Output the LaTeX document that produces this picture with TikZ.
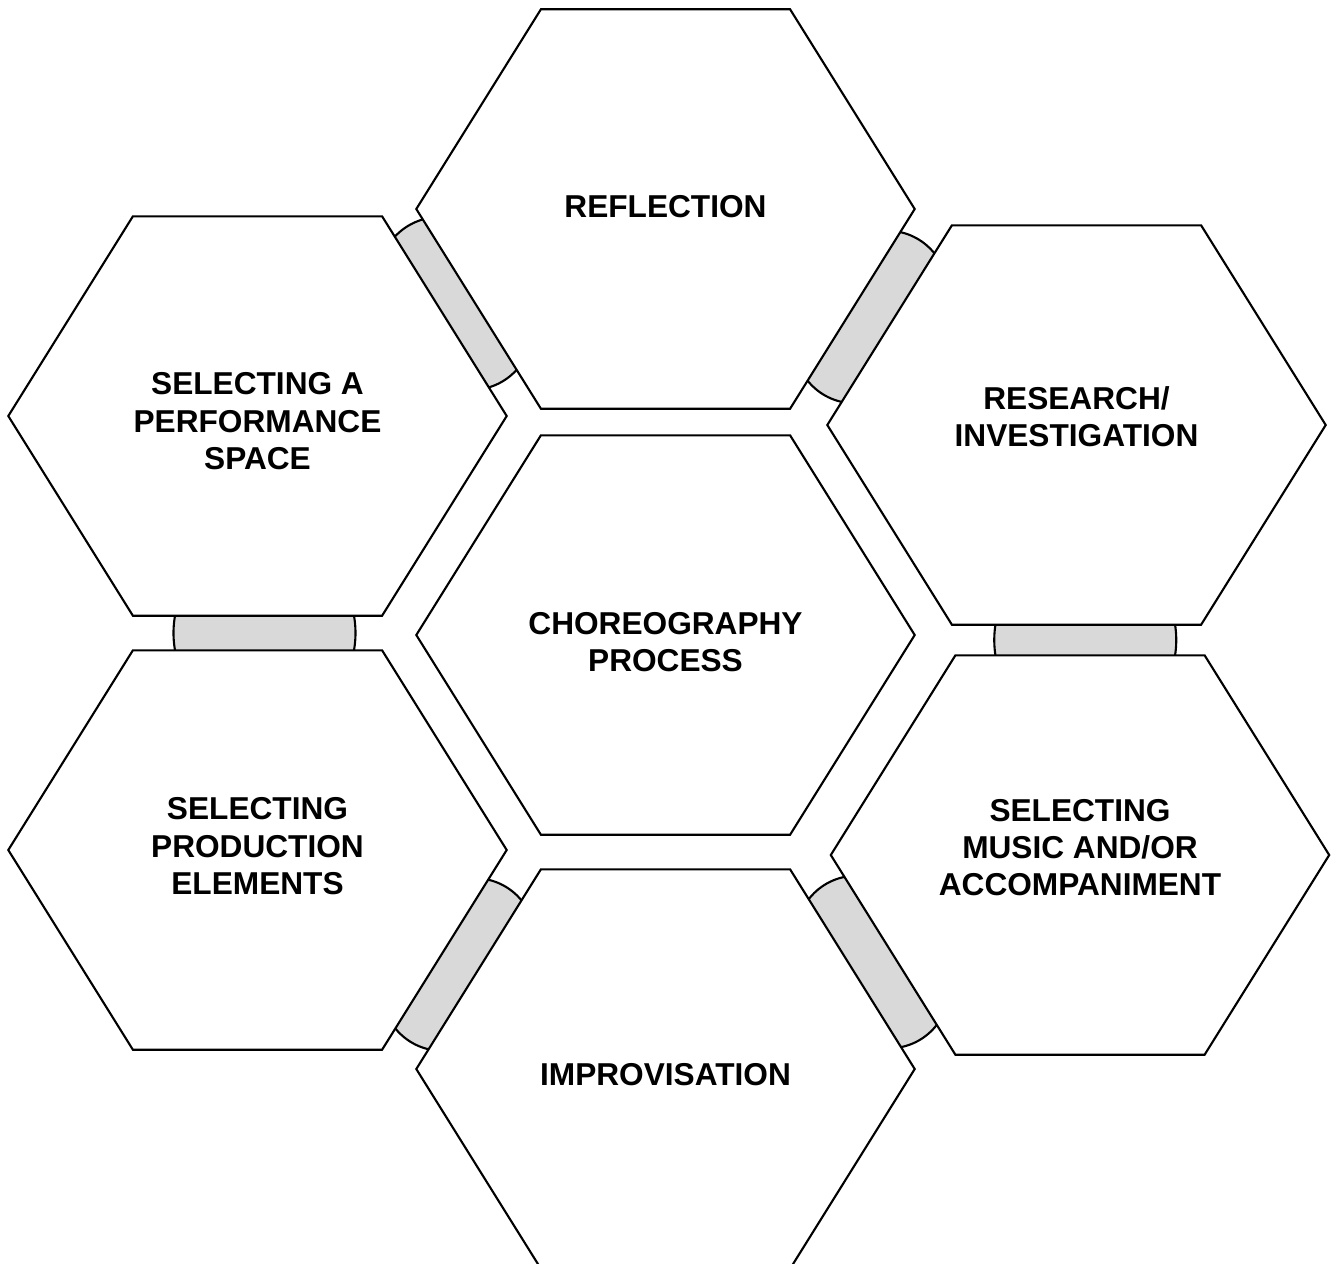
\documentclass[tikz,border=0pt]{standalone}
\usepackage{fontspec}
\setmainfont{Liberation Sans}
\usetikzlibrary{positioning, calc, backgrounds}
\definecolor{linkgray}{RGB}{217,217,217}
\newcommand\hexlink[5]{%
  \pgfmathsetmacro\capang{asin(.25/#4)}%
  \pgfmathsetmacro\capx{.91-#4+#4*cos(\capang)}%
  \path ($(#1)!.5!(#2)$) ++(#5) coordinate (#1-#2);
  \filldraw[link, shift={(#1-#2)}, rotate=#3]
    (\capx,-.25) arc[start angle=-\capang, end angle=\capang, radius=#4]
    -- (-\capx,.25) arc[start angle=180-\capang, end angle=180+\capang, radius=#4] -- cycle;
}
\newcommand\hexedge[1]{%
  \filldraw[hexline] (#1.west) -- ($(#1.north west)!.25!(#1.north east)$)
    -- ($(#1.north west)!.75!(#1.north east)$) -- (#1.east)
    -- ($(#1.south west)!.75!(#1.south east)$) -- ($(#1.south west)!.25!(#1.south east)$) -- cycle;
}

\begin{document}
\begin{tikzpicture}[node distance=4cm, on grid,
    hexcell/.style={minimum width=4.97cm, minimum height=3.98cm, inner sep=0pt,
      align=center, font=\bfseries\fontsize{9}{10.6}\selectfont},
    lift/.style={text depth=#1},
    sink/.style={text height=#1},
    hexline/.style={draw=black, fill=white, line width=.6pt, line join=miter},
    link/.style={draw=black, fill=linkgray, line width=.6pt}]
	\useasboundingbox (-6.655,-6.28) rectangle (6.715,6.35);
	\node[hexcell, sink=21pt]   (c) {CHOREOGRAPHY\\PROCESS};
	\node[hexcell, lift=.06cm]  (t)  [above=4.26 of c] {REFLECTION};
	\node[hexcell, lift=.17cm]  (ru) [above right=2.10 and 4.11 of c] {RESEARCH/\\INVESTIGATION};
	\node[hexcell, lift=.15cm]  (rl) [below right=2.20 and 4.145 of c] {SELECTING\\MUSIC AND/OR\\ACCOMPANIMENT};
	\node[hexcell, sink=9.3pt]  (b)  [below=4.34 of c] {IMPROVISATION};
	\node[hexcell, lift=.08cm]  (ll) [below left=2.15 and 4.08 of c] {SELECTING\\PRODUCTION\\ELEMENTS};
	\node[hexcell, sink=30.5pt] (lu) [above left=2.19 and 4.08 of c] {SELECTING A\\PERFORMANCE\\SPACE};
	\begin{pgfonlayer}{background}
		\hexlink{lu}{t}{-58}{.6}{-.06,.09}
		\hexlink{t}{ru}{58}{.6}{0,0}
		\hexlink{lu}{ll}{0}{1}{.07,0}
		\hexlink{ru}{rl}{0}{1}{.07,0}
		\hexlink{ll}{b}{58}{.6}{-.03,-.05}
		\hexlink{b}{rl}{-58}{.6}{0,0}
		\foreach \h in {c,t,ru,rl,b,ll,lu} {\hexedge{\h}}
	\end{pgfonlayer}
\end{tikzpicture}
\end{document}
